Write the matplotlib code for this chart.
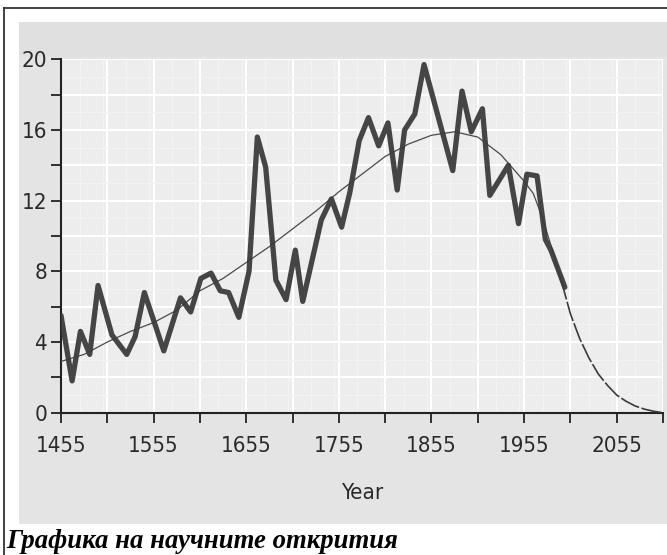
import matplotlib
matplotlib.use("Agg")
import matplotlib.pyplot as plt
from matplotlib.patches import Rectangle
from matplotlib.lines import Line2D
from matplotlib.ticker import MultipleLocator
from matplotlib import font_manager

# ---- data ----
years = [1455, 1467, 1476, 1486, 1495, 1510, 1526, 1535, 1545, 1566, 1584, 1595,
         1606, 1617, 1627, 1636, 1647, 1658, 1667, 1676, 1687, 1698, 1708, 1716,
         1736, 1747, 1758, 1767, 1777, 1787, 1798, 1808, 1818, 1826, 1837, 1847,
         1878, 1888, 1898, 1910, 1918, 1938, 1949, 1958, 1969, 1978, 1984, 1999]
discoveries = [5.5, 1.8, 4.6, 3.3, 7.2, 4.4, 3.3, 4.3, 6.8, 3.5, 6.5, 5.7,
               7.6, 7.9, 6.9, 6.8, 5.4, 8.0, 15.6, 13.9, 7.5, 6.4, 9.2, 6.3,
               10.9, 12.1, 10.5, 12.5, 15.4, 16.7, 15.1, 16.4, 12.6, 16.0, 16.9, 19.7,
               13.7, 18.2, 15.9, 17.2, 12.3, 14.0, 10.7, 13.5, 13.4, 9.8, 9.2, 7.1]

trend_years = [1455, 1480, 1505, 1530, 1555, 1580, 1605, 1630, 1655, 1680, 1705,
               1730, 1755, 1780, 1805, 1830, 1855, 1880, 1905, 1930, 1955, 1965,
               1975, 1985, 1995]
trend_values = [2.9, 3.3, 4.0, 4.6, 5.1, 5.8, 6.9, 7.6, 8.5, 9.4, 10.4,
                11.4, 12.5, 13.5, 14.5, 15.2, 15.7, 15.9, 15.6, 14.6, 13.1, 12.4,
                11.0, 9.3, 7.5]

forecast_years = [1995, 2005, 2015, 2025, 2035, 2045, 2055, 2065, 2075, 2085, 2095, 2105]
forecast_values = [7.5, 5.6, 4.2, 3.1, 2.2, 1.55, 1.0, 0.65, 0.38, 0.2, 0.08, 0.0]

x_ticks = list(range(1455, 2106, 50))
x_labels = ["1455", "", "1555", "", "1655", "", "1755", "", "1855", "", "1955", "", "2055", ""]
y_ticks = list(range(0, 21, 2))
y_labels = ["0", "", "4", "", "8", "", "12", "", "16", "", "20"]
x_title = "Year"
caption = "Графика на научните открития"

W, H = 667, 555
fig = plt.figure(figsize=(W / 100, H / 100), dpi=100)
fig.patch.set_facecolor("white")

def fx(x):
    return x / W

def fy(y):
    return 1 - y / H

# gray panel
fig.add_artist(Rectangle((fx(19), fy(524)), fx(667) - fx(19), fy(22) - fy(524),
                         transform=fig.transFigure, facecolor="#e4e4e4",
                         edgecolor="none", zorder=0))
fig.add_artist(Rectangle((fx(19), fy(57)), fx(667) - fx(19), fy(22) - fy(57),
                         transform=fig.transFigure, facecolor="#e0e0e0",
                         edgecolor="none", zorder=0))
# outer border (left and top)
fig.add_artist(Line2D([fx(3.5), fx(3.5)], [fy(555), fy(7.5)], transform=fig.transFigure,
                      color="#333333", lw=1.3))
fig.add_artist(Line2D([fx(3.5), fx(667)], [fy(7.5), fy(7.5)], transform=fig.transFigure,
                      color="#333333", lw=1.3))

ax = fig.add_axes([fx(61), fy(412.7), fx(663) - fx(61), fy(59.3) - fy(412.7)])
ax.set_facecolor("#ededed")
ax.set_xlim(1455, 2105)
ax.set_ylim(0, 20)

# grid
ax.xaxis.set_minor_locator(MultipleLocator(25))
ax.yaxis.set_minor_locator(MultipleLocator(1))
ax.grid(which="minor", color="#f3f3f3", lw=0.8, zorder=0)
ax.grid(which="major", color="white", lw=1.5, zorder=0)
ax.tick_params(which="minor", length=0)

ax.set_xticks(x_ticks)
ax.set_xticklabels(x_labels)
ax.set_yticks(y_ticks)
ax.set_yticklabels(y_labels)

tick_font = font_manager.FontProperties(family="DejaVu Sans", stretch="condensed", size=16)
for lab in ax.get_xticklabels() + ax.get_yticklabels():
    lab.set_fontproperties(tick_font)
    lab.set_color("#2a2a2a")
ax.tick_params(which="major", direction="out", length=7, width=1.3, color="#222222")
ax.tick_params(axis="x", pad=10)
ax.tick_params(axis="y", pad=3)

for s in ["top", "right"]:
    ax.spines[s].set_visible(False)
for s in ["left", "bottom"]:
    ax.spines[s].set_color("#222222")
    ax.spines[s].set_linewidth(1.5)

ax.set_xlabel(x_title, fontproperties=tick_font, color="#2a2a2a", labelpad=19)

# trend curve and forecast
ax.plot(trend_years, trend_values, color="#4a4a4a", lw=0.9, zorder=3)
ax.plot(forecast_years, forecast_values, color="#3a3a3a", lw=1.2,
        linestyle=(0, (12, 1.5)), zorder=3)
# data
ax.plot(years, discoveries, color="#3c3c3c", lw=3.8, solid_joinstyle="round",
        solid_capstyle="round", zorder=4, alpha=0.95)

fig.text(fx(6), fy(548), caption, family=["Liberation Serif", "DejaVu Serif"],
         fontweight="bold", fontstyle="italic", fontsize=19.3, color="black",
         ha="left", va="baseline")

fig.savefig("out.png", dpi=100)
